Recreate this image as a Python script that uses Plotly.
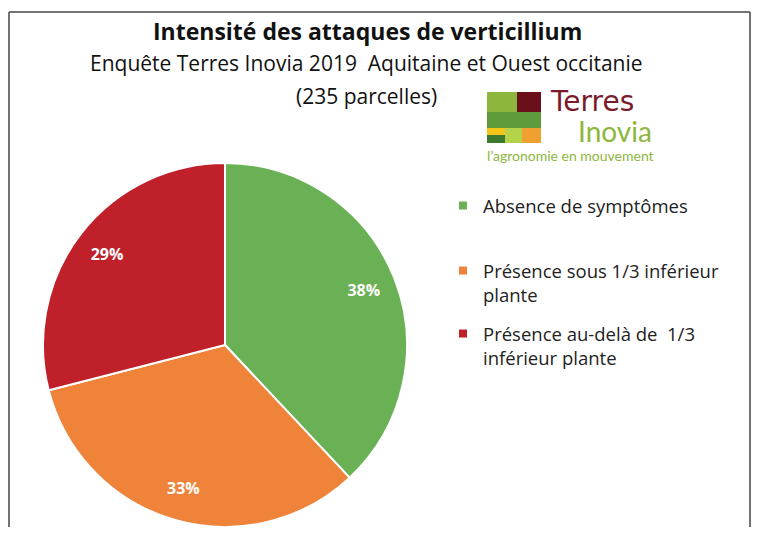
import plotly.graph_objects as go

# The page body has an 8px margin: the figure is sized to fit the 759x535 window inside it.
WIN_W, WIN_H, OFF = 759, 535, 8
W, H = WIN_W - 2 * OFF, WIN_H - 2 * OFF

# ---- data ----
categories = ["Absence de symptômes",
              "Présence sous 1/3 inférieur<br>plante",
              "Présence au-delà de  1/3<br>inférieur plante"]
values = [38, 33, 29]
colors = ["#6AB155", "#F0833A", "#C0202A"]

title_line1 = "Intensité des attaques de verticillium"
title_line2 = "Enquête Terres Inovia 2019  Aquitaine et Ouest occitanie"
title_line3 = "(235 parcelles)"

FONT = "Open Sans"


def px(x):
    return (x - OFF) / W


def py(y):
    return 1 - (y - OFF) / H


fig = go.Figure()

# the pie itself
fig.add_trace(go.Pie(
    labels=categories,
    values=values,
    sort=False,
    direction="clockwise",
    rotation=0,
    marker=dict(colors=colors, line=dict(color="white", width=2)),
    textinfo="none",
    domain=dict(x=[px(43), px(407)], y=[py(527), py(163)]),
    showlegend=False,
    hoverinfo="label+percent",
))
# same data drawn as a transparent ring, only to carry the percentage labels near the rim
fig.add_trace(go.Pie(
    labels=categories,
    values=values,
    sort=False,
    direction="clockwise",
    rotation=0,
    hole=0.64,
    marker=dict(colors=["rgba(0,0,0,0)"] * len(values), line=dict(width=0)),
    textinfo="percent",
    textposition="inside",
    insidetextorientation="horizontal",
    textfont=dict(color="white", size=16, family=FONT, weight="bold"),
    domain=dict(x=[px(43), px(407)], y=[py(527), py(163)]),
    showlegend=False,
    hoverinfo="skip",
))

# legend entries (one legend box per entry to keep the original spacing)
legend_names = ["legend", "legend2", "legend3"]
legend_tops = [187, 252, 315]
for name, color, lg in zip(categories, colors, legend_names):
    fig.add_trace(go.Scatter(
        x=[None], y=[None], mode="markers", name=name,
        marker=dict(symbol="square", size=8, color=color),
        legend=lg, showlegend=True, hoverinfo="skip",
    ))

legend_style = dict(xanchor="left", yanchor="top", valign="top",
                    font=dict(size=18.5, family=FONT, color="#222"),
                    bgcolor="rgba(0,0,0,0)", itemwidth=30)
legends = {lg: dict(x=px(443), y=py(top), **legend_style) for lg, top in zip(legend_names, legend_tops)}

annotations = [
    dict(text=f"<b>{title_line1}</b>", x=px(367), y=py(31), font=dict(size=23, family=FONT, color="#111")),
    dict(text=title_line2, x=px(366), y=py(63), font=dict(size=21, family=FONT, color="#111")),
    dict(text=title_line3, x=px(366), y=py(96), font=dict(size=21, family=FONT, color="#111")),
    # logo text
    dict(text="Terres", x=px(549), y=py(102), xanchor="left", font=dict(size=28, family="DejaVu Sans", color="#7A1A2A")),
    dict(text="Inovia", x=px(653), y=py(131), xanchor="right", font=dict(size=28, family="Lato", color="#8DB63C")),
    dict(text="l’agronomie en mouvement", x=px(486), y=py(155), xanchor="left", font=dict(size=14, family="Lato", color="#8DB63C")),
]
for a in annotations:
    a.setdefault("xanchor", "center")
    a.update(xref="paper", yref="paper", yanchor="middle", showarrow=False, borderpad=0)

# logo blocks (x0, y0, x1, y1 in window pixels) and frame
logo_blocks = [
    (487, 92, 517, 112, "#8DB63C"),
    (517, 92, 541, 112, "#6B0F1A"),
    (487, 112, 541, 128, "#5E9B3A"),
    (487, 128, 505, 135, "#F5C518"),
    (487, 135, 505, 143, "#3E7A2E"),
    (505, 128, 522, 143, "#B5D34A"),
    (522, 128, 541, 143, "#F0A030"),
]
shapes = []
for x0, y0, x1, y1, c in logo_blocks:
    shapes.append(dict(type="rect", xref="paper", yref="paper", x0=px(x0), x1=px(x1), y0=py(y1), y1=py(y0),
                       fillcolor=c, line=dict(width=0), layer="above"))
frame = dict(color="#444", width=1.5)
shapes += [
    dict(type="line", xref="paper", yref="paper", x0=px(9), x1=px(750), y0=py(12), y1=py(12), line=frame),
    dict(type="line", xref="paper", yref="paper", x0=px(9), x1=px(9), y0=py(12), y1=-0.05, line=frame),
    dict(type="line", xref="paper", yref="paper", x0=px(750), x1=px(750), y0=py(12), y1=-0.05, line=frame),
]

fig.update_layout(
    width=W, height=H,
    margin=dict(l=0, r=0, t=0, b=0),
    paper_bgcolor="white", plot_bgcolor="rgba(0,0,0,0)",
    font=dict(family=FONT, color="#222"),
    xaxis=dict(visible=False), yaxis=dict(visible=False),
    annotations=annotations,
    shapes=shapes,
    **legends,
)

fig.write_html("out.html")
